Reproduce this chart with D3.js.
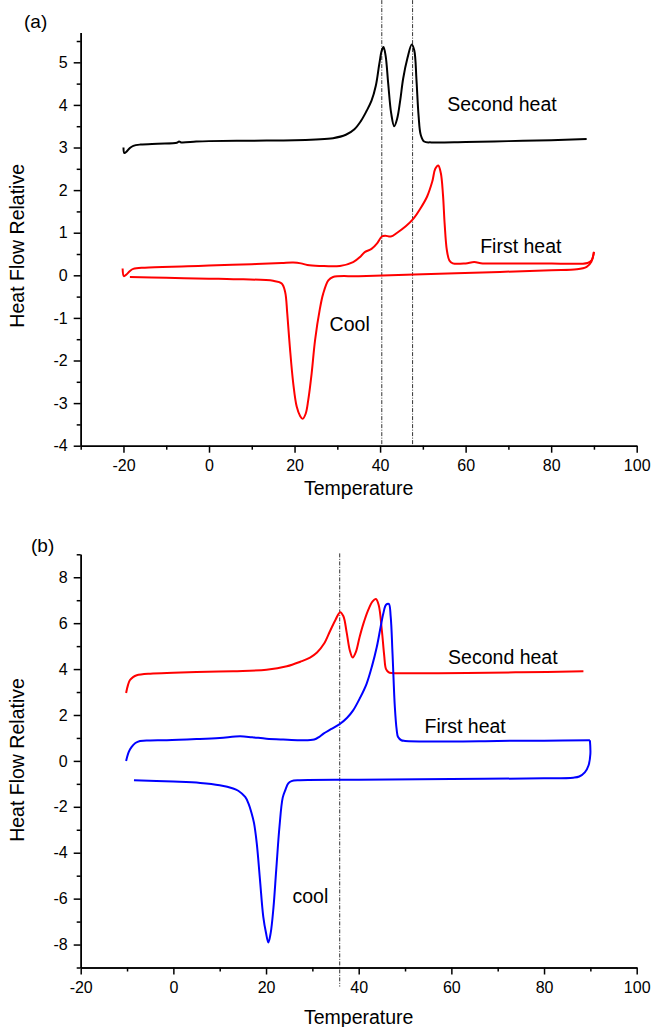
<!DOCTYPE html>
<html>
<head>
<meta charset="utf-8">
<script src="https://cdn.jsdelivr.net/npm/d3@7"></script>
<style>
    body { margin: 0; background: #fff; }
    text { font-family: Arial, "Liberation Sans", sans-serif; fill: #000; }
</style>
</head>
<body>
<div id="chart"></div>
<script>
// ---- data: [temperature, heat flow] ----

// panel (a)
const secondHeatA = [
    [-20.0, 3.00], [-19.8, 2.87], [-19.3, 2.90], [-18.5, 2.99], [-17.7, 3.04], [-16, 3.07],
    [-12, 3.09], [-7.5, 3.11], [-7, 3.14], [-6.5, 3.12], [-3, 3.14], [0, 3.15], [10, 3.16],
    [20, 3.17], [25, 3.19], [29, 3.22], [32, 3.3], [34, 3.43], [35.5, 3.62], [36.8, 3.85],
    [38, 4.1], [39, 4.45], [39.8, 4.95], [40.4, 5.28], [40.8, 5.36], [41.3, 5.15], [41.9, 4.5],
    [42.6, 3.8], [43.3, 3.5], [44, 3.68], [44.7, 4.1], [45.4, 4.62], [46.4, 5.1],
    [47.4, 5.42], [48, 5.28], [48.5, 4.6], [49.0, 3.75], [49.5, 3.3], [50.3, 3.14],
    [52, 3.12], [60, 3.13], [70, 3.15], [80, 3.17], [88.3, 3.2]
];
const firstHeatA = [
    [-20.2, 0.16], [-19.9, -0.02], [-19.3, 0.02], [-18.5, 0.10], [-17.7, 0.15], [-15, 0.18],
    [-5, 0.21], [0, 0.23], [10, 0.26], [17, 0.29], [19.7, 0.30], [21.5, 0.28], [23, 0.24],
    [26, 0.22], [30.6, 0.22], [33.7, 0.31], [35.5, 0.45], [36.5, 0.55], [38, 0.62],
    [39.3, 0.75], [40.4, 0.91], [41.2, 0.93], [42.5, 0.91], [44, 1.0], [46, 1.15],
    [47.8, 1.33], [49.5, 1.58], [51, 1.85], [52.2, 2.2], [52.9, 2.5], [53.6, 2.58],
    [54.2, 2.4], [54.7, 1.9], [55.1, 1.2], [55.6, 0.6], [56.2, 0.35], [57, 0.28],
    [60, 0.28], [62, 0.31], [64, 0.28], [70, 0.28], [80, 0.28], [88.5, 0.29],
    [89.5, 0.36], [90, 0.55]
];
const coolA = [
    [90, 0.55], [89.4, 0.32], [88.3, 0.2], [86, 0.14], [80, 0.12], [68, 0.08], [48, 0.02],
    [35, -0.02], [29, -0.04], [27.9, -0.12], [26.7, -0.43], [25.9, -0.8], [24.8, -1.52],
    [24, -2.3], [23.2, -2.93], [22.6, -3.25], [21.9, -3.37], [21.3, -3.3], [20.5, -3.08],
    [19.7, -2.54], [18.9, -1.68], [18.3, -0.9], [17.8, -0.39], [17.0, -0.19], [15, -0.13],
    [5.7, -0.09], [0, -0.08], [-10, -0.06], [-18.5, -0.04]
];
const refTempsA = [40.4, 47.6];

// panel (b)
const secondHeatB = [
    [-10.2, 2.96], [-9.8, 3.3], [-9.4, 3.51], [-8.7, 3.65], [-7.9, 3.73], [-5, 3.8],
    [0, 3.84], [5, 3.87], [12.9, 3.91], [20.1, 3.97], [24.5, 4.12], [27.4, 4.32],
    [29.5, 4.5], [31, 4.72], [32.5, 5.1], [33.8, 5.65], [35, 6.15], [36, 6.48],
    [36.7, 6.3], [37.4, 5.6], [38.1, 4.8], [38.7, 4.5], [39.4, 4.75], [40.2, 5.4],
    [41, 5.97], [42, 6.55], [43, 6.95], [43.7, 7.05], [44.3, 6.8], [45, 5.68],
    [45.5, 4.6], [45.9, 4.0], [46.5, 3.86], [47.1, 3.83], [55, 3.82], [63.3, 3.83],
    [75, 3.86], [88.5, 3.9]
];
const firstHeatB = [
    [-10.2, 0.0], [-9.6, 0.4], [-9.0, 0.61], [-8.2, 0.78], [-7.2, 0.87], [-5, 0.89],
    [-1.4, 0.9], [5, 0.95], [10, 1.0], [14.4, 1.07], [17, 1.03], [20.1, 0.97], [23.7, 0.93],
    [27.3, 0.9], [30.4, 0.93], [31.5, 1.05], [32.4, 1.19], [34, 1.38], [36, 1.62],
    [37.5, 1.88], [38.8, 2.2], [40.3, 2.75], [41.7, 3.36], [42.9, 4.15], [43.9, 4.96],
    [44.7, 5.8], [45.3, 6.41], [45.9, 6.8], [46.5, 6.84], [46.9, 6.3], [47.3, 4.67],
    [47.8, 2.35], [48.2, 1.35], [48.5, 1.04], [49.2, 0.9], [50, 0.87], [60, 0.85],
    [70, 0.87], [80, 0.88], [89.9, 0.9]
];
const coolB = [
    [89.9, 0.9], [90.0, 0.3], [89.6, -0.2], [88.8, -0.5], [87.6, -0.68], [86.3, -0.73],
    [80, -0.76], [60, -0.79], [40, -0.82], [27.3, -0.84], [25.5, -0.88], [24.8, -0.98],
    [24.2, -1.25], [23.6, -1.6], [22.9, -2.87], [22.2, -4.75], [21.6, -6.4], [21.0, -7.5],
    [20.5, -7.91], [20.0, -7.5], [19.4, -6.78], [18.7, -5.19], [18.0, -3.59], [17.4, -2.7],
    [16.9, -2.29], [16.2, -1.85], [15.5, -1.57], [14, -1.3], [12.9, -1.2], [10, -1.06],
    [5.8, -0.96], [0, -0.9], [-8.5, -0.84]
];
const refTempsB = [35.9];

// tick values
const xMajorA = [-20, 0, 20, 40, 60, 80, 100];
const xMinorA = [-30, -10, 10, 30, 50, 70, 90];
const yMajorA = [-4, -3, -2, -1, 0, 1, 2, 3, 4, 5];
const yMinorA = [-3.5, -2.5, -1.5, -0.5, 0.5, 1.5, 2.5, 3.5, 4.5, 5.5];
const xMajorB = [-20, 0, 20, 40, 60, 80, 100];
const xMinorB = [-10, 10, 30, 50, 70, 90];
const yMajorB = [-8, -6, -4, -2, 0, 2, 4, 6, 8];
const yMinorB = [-9, -7, -5, -3, -1, 1, 3, 5, 7, 9];

const width = 652, height = 1027;

const svg = d3.select('#chart').append('svg')
    .attr('width', width)
    .attr('height', height)
    .style('background-color', '#ffffff');

// plain hyphen for negatives, like the original
const tickLabel = d => String(d);

const drawPanel = (p) => {
    const g = svg.append('g');

    const x = d3.scaleLinear().domain(p.xDomain).range([80.7, 636.7]);
    const y = d3.scaleLinear().domain(p.yDomain).range(p.yRange);

    // vertical reference lines
    g.selectAll('line.ref')
        .data(p.refTemps)
        .enter().append('line')
        .attr('class', 'ref')
        .attr('x1', d => x(d)).attr('x2', d => x(d))
        .attr('y1', y(p.refSpan[0])).attr('y2', y(p.refSpan[1]))
        .attr('stroke', '#333')
        .attr('stroke-width', 1)
        .attr('stroke-dasharray', '4,1.5,1,1.5');

    // the curves
    const line = d3.line()
        .x(d => x(d[0]))
        .y(d => y(d[1]))
        .curve(d3.curveCatmullRom.alpha(0.5));

    p.series.forEach(s => {
        g.append('path')
            .datum(s.data)
            .attr('fill', 'none')
            .attr('stroke', s.color)
            .attr('stroke-width', 2)
            .attr('stroke-linejoin', 'round')
            .attr('d', line);
    });

    // Add X axis
    g.append('g')
        .attr('transform', 'translate(0,' + p.yRange[0] + ')')
        .call(d3.axisBottom(x).tickValues(p.xMajor).tickSize(7).tickSizeOuter(0)
            .tickPadding(7).tickFormat(tickLabel));
    g.append('g')
        .attr('transform', 'translate(0,' + p.yRange[0] + ')')
        .call(d3.axisBottom(x).tickValues(p.xMinor).tickSize(4).tickSizeOuter(0).tickFormat(''));

    // Add Y axis
    g.append('g')
        .attr('transform', 'translate(80.7,0)')
        .call(d3.axisLeft(y).tickValues(p.yMajor).tickSize(7).tickSizeOuter(0)
            .tickPadding(6).tickFormat(tickLabel));
    g.append('g')
        .attr('transform', 'translate(80.7,0)')
        .call(d3.axisLeft(y).tickValues(p.yMinor).tickSize(4).tickSizeOuter(0).tickFormat(''));

    g.selectAll('.domain, .tick line')
        .attr('stroke', '#000')
        .attr('stroke-width', 1.5);
    g.selectAll('.tick text')
        .style('font-size', '16px');

    // curve labels
    p.notes.forEach(n => {
        g.append('text')
            .attr('x', x(n[0]))
            .attr('y', y(n[1]))
            .style('font-size', '19.5px')
            .text(n[2]);
    });

    // axis titles
    g.append('text')
        .attr('x', 358.7)
        .attr('y', p.xTitleY)
        .attr('text-anchor', 'middle')
        .style('font-size', '19.5px')
        .text('Temperature');

    g.append('text')
        .attr('transform', 'translate(24,' + p.yTitleY + ') rotate(-90)')
        .attr('text-anchor', 'middle')
        .style('font-size', '19.5px')
        .text('Heat Flow Relative');

    g.append('text')
        .attr('x', p.tag[0])
        .attr('y', p.tag[1])
        .style('font-size', '19px')
        .text(p.tag[2]);
};

drawPanel({
    xDomain: [-30, 100], yDomain: [-4, 5.7], yRange: [445.7, 32.5],
    xMajor: xMajorA, xMinor: xMinorA, yMajor: yMajorA, yMinor: yMinorA,
    refTemps: refTempsA, refSpan: [6.46, -4],
    series: [
        {data: secondHeatA, color: '#000000'},
        {data: firstHeatA, color: '#ff0000'},
        {data: coolA, color: '#ff0000'}
    ],
    notes: [[55.7, 3.86, 'Second heat'], [63.4, 0.52, 'First heat'], [28.2, -1.3, 'Cool']],
    xTitleY: 495.3, yTitleY: 245.8, tag: [24, 28, '(a)']
});

drawPanel({
    xDomain: [-20, 100], yDomain: [-9, 9], yRange: [967.5, 554.3],
    xMajor: xMajorB, xMinor: xMinorB, yMajor: yMajorB, yMinor: yMinorB,
    refTemps: refTempsB, refSpan: [9.04, -9.83],
    series: [
        {data: secondHeatB, color: '#ff0000'},
        {data: firstHeatB, color: '#0000ff'},
        {data: coolB, color: '#0000ff'}
    ],
    notes: [[59.3, 4.22, 'Second heat'], [54.2, 1.2, 'First heat'], [25.7, -6.2, 'cool']],
    xTitleY: 1023.6, yTitleY: 760, tag: [31, 551.5, '(b)']
});
</script>
</body>
</html>
